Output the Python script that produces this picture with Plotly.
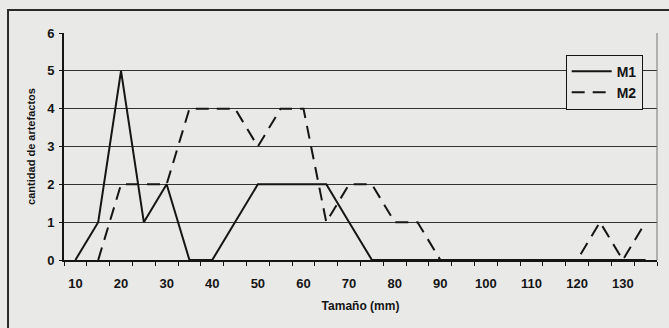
import plotly.graph_objects as go

# Size classes (mm) and artefact counts per sample
tamano = [10, 15, 20, 25, 30, 35, 40, 45, 50, 55, 60, 65, 70, 75, 80, 85, 90,
          95, 100, 105, 110, 115, 120, 125, 130, 135]
m1 = [0, 1, 5, 1, 2, 0, 0, 1, 2, 2, 2, 2, 1, 0, 0, 0, 0,
      0, 0, 0, 0, 0, 0, 0, 0, 0]
m2 = [None, 0, 2, 2, 2, 4, 4, 4, 3, 4, 4, 1, 2, 2, 1, 1, 0,
      0, 0, 0, 0, 0, 0, 1, 0, 1]
x_labels = [10, 20, 30, 40, 50, 60, 70, 80, 90, 100, 110, 120, 130]
y_ticks = [0, 1, 2, 3, 4, 5, 6]

BG = "#e9e9e7"
INK = "#151515"
FONT = "Liberation Sans, Arial, sans-serif"

fig = go.Figure()
fig.add_trace(go.Scatter(x=tamano, y=m1, name="<b>M1</b>", mode="lines",
                         line=dict(color=INK, width=2)))
fig.add_trace(go.Scatter(x=tamano, y=m2, name="<b>M2</b>", mode="lines",
                         line=dict(color=INK, width=2, dash="13px,8px")))

# Outer chart frame (runs off the right and bottom edges)
fig.add_shape(type="rect", xref="paper", yref="paper",
              x0=-0.0944, y0=-0.4, x1=1.1, y1=1.1013,
              line=dict(color="#2a2a2a", width=2), layer="below")
# Right border of the plot area
fig.add_shape(type="line", xref="paper", yref="paper",
              x0=1, y0=0, x1=1, y1=1,
              line=dict(color="#777", width=1))

fig.update_layout(
    width=669, height=328,
    margin=dict(l=64, r=12, t=33, b=68),
    paper_bgcolor=BG, plot_bgcolor=BG,
    font=dict(family=FONT, color=INK, size=12),
    showlegend=True,
    legend=dict(x=0.846, y=0.905, xanchor="left", yanchor="top",
                bgcolor=BG, bordercolor=INK, borderwidth=1,
                font=dict(family=FONT, size=14, color=INK),
                itemwidth=40, tracegroupgap=2),
    xaxis=dict(range=[7.5, 137.5], tickmode="array", tickvals=x_labels,
               ticktext=[f"<b>{v}</b>" for v in x_labels],
               ticks="", ticklabelstandoff=10,
               showgrid=False, zeroline=False,
               showline=True, linecolor=INK, linewidth=2,
               tickfont=dict(family=FONT, size=13, color=INK),
               minor=dict(tickmode="array",
                          tickvals=[7.5 + 5 * i for i in range(27)],
                          ticks="outside", ticklen=4, tickcolor=INK,
                          tickwidth=1, showgrid=False),
               title=dict(text="<b>Tamaño (mm)</b>", standoff=12,
                          font=dict(family=FONT, size=12, color=INK))),
    yaxis=dict(range=[0, 6], tickmode="array", tickvals=y_ticks,
               ticktext=[f"<b>{v}</b>" for v in y_ticks],
               ticks="outside", ticklen=3, tickcolor=INK,
               ticklabelstandoff=2,
               showgrid=True, gridcolor="#333", gridwidth=1,
               zeroline=False, showline=True, linecolor=INK, linewidth=2,
               tickfont=dict(family=FONT, size=13, color=INK),
               title=dict(text="<b>cantidad de artefactos</b>", standoff=9,
                          font=dict(family=FONT, size=11, color=INK))),
)

fig.write_html("out.html")
